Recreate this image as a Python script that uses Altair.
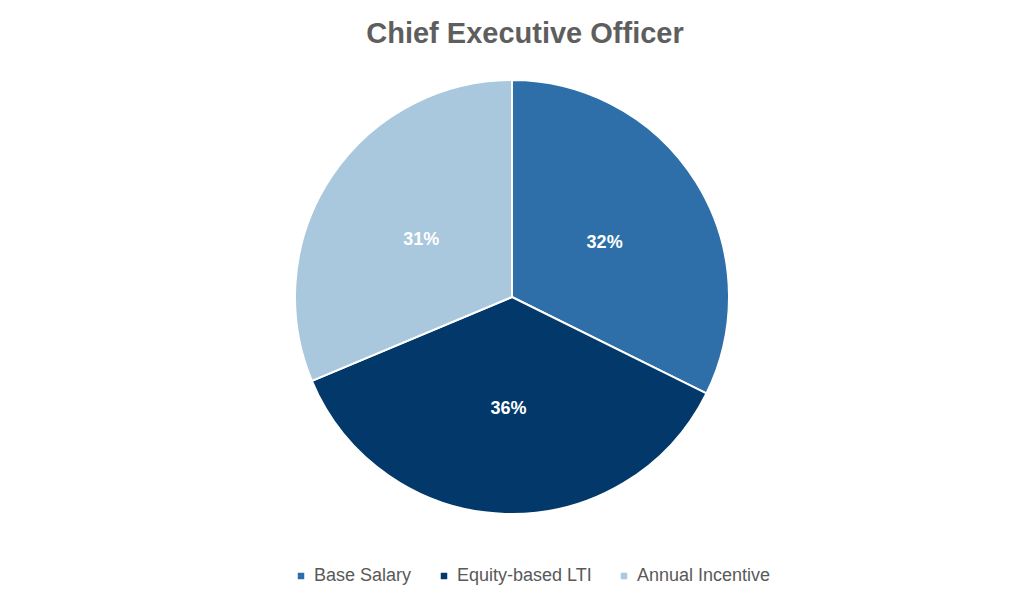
import altair as alt
import pandas as pd

categories = ["Base Salary", "Equity-based LTI", "Annual Incentive"]
values = [32, 36, 31]
labels = ["32%", "36%", "31%"]
colors = ["#2E6FA9", "#02396A", "#A9C8DE"]

df = pd.DataFrame({
    "category": categories,
    "value": values,
    "label": labels,
    "order": list(range(len(categories))),
})

base = alt.Chart(df).encode(
    theta=alt.Theta("value:Q", stack=True),
    order=alt.Order("order:Q"),
)

arcs = base.mark_arc(outerRadius=217, stroke="white", strokeWidth=2).encode(
    color=alt.Color(
        "category:N",
        scale=alt.Scale(domain=categories, range=colors),
        sort=categories,
        legend=alt.Legend(
            title=None,
            orient="none",
            direction="horizontal",
            legendX=284,
            legendY=499,
            symbolType="square",
            symbolSize=42,
            symbolStrokeWidth=0,
            labelFont="Liberation Sans",
            labelFontSize=18,
            labelColor="#595959",
            labelOffset=4,
            columnPadding=23,
        ),
    )
)

texts = base.mark_text(
    radius=109,
    dy=3,
    font="Liberation Sans",
    fontSize=18,
    fontWeight="bold",
    color="white",
).encode(text="label:N")

chart = (
    alt.layer(arcs, texts)
    .properties(
        width=1008,
        height=458,
        padding={"top": 60, "left": 0, "right": 8, "bottom": 73},
        autosize=alt.AutoSizeParams(type="none"),
        title=alt.TitleParams(
            "Chief Executive Officer",
            font="Liberation Sans",
            fontSize=29,
            fontWeight="bold",
            color="#5E5E5E",
            anchor="middle",
            dx=13,
            offset=19,
        ),
    )
    .configure_view(stroke=None)
)

chart.save("out.html", embed_options={"renderer": "svg", "actions": False})
